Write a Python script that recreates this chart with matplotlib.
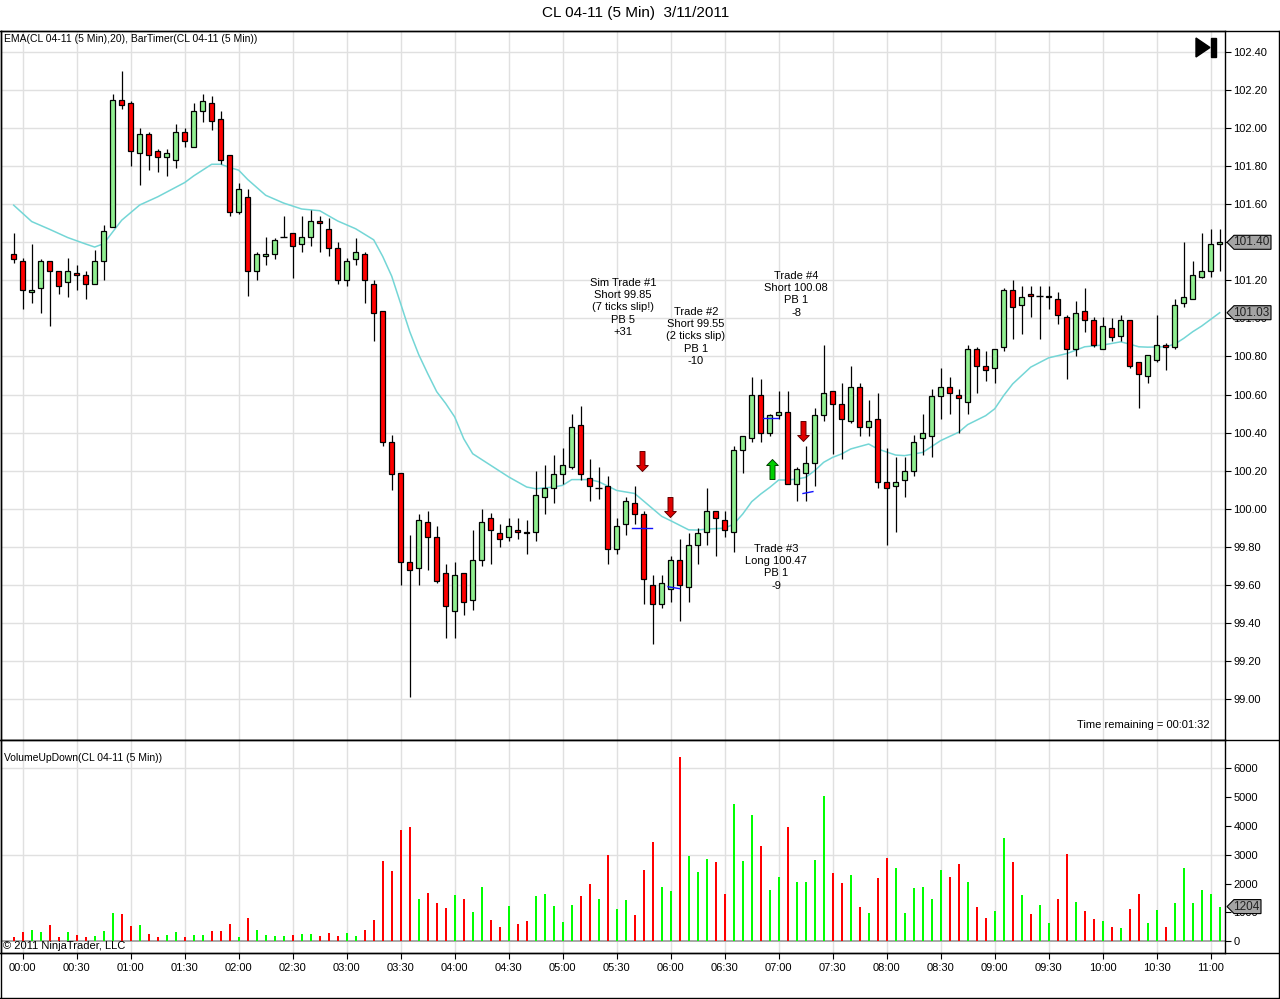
import numpy as np
import matplotlib
matplotlib.use("Agg")
import matplotlib.pyplot as plt
from matplotlib.path import Path
from matplotlib.patches import Polygon
from matplotlib.lines import Line2D
from matplotlib.transforms import IdentityTransform

plt.rcParams['font.family'] = ['Liberation Sans', 'DejaVu Sans']

# ---------------- data ----------------
opens = [101.34, 101.30, 101.14, 101.16, 101.30, 101.25, 101.19, 101.24, 101.23, 101.18,
         101.30, 101.48, 102.15, 102.13, 101.87, 101.97, 101.88, 101.85, 101.83, 101.98,
         101.90, 102.09, 102.13, 102.05, 101.86, 101.56, 101.64, 101.25, 101.33, 101.34,
         101.43, 101.45, 101.39, 101.43, 101.51, 101.47, 101.37, 101.20, 101.31, 101.34,
         101.18, 101.04, 100.35, 100.19, 99.72, 99.69, 99.93, 99.85, 99.66, 99.46,
         99.66, 99.52, 99.73, 99.95, 99.87, 99.85, 99.89, 99.88, 99.88, 100.06,
         100.11, 100.18, 100.22, 100.44, 100.16, 100.11, 100.12, 99.79, 99.92, 100.03,
         99.97, 99.60, 99.50, 99.58, 99.73, 99.59, 99.81, 99.88, 99.99, 99.94,
         99.88, 100.31, 100.37, 100.60, 100.40, 100.49, 100.51, 100.13, 100.19, 100.24,
         100.49, 100.62, 100.55, 100.46, 100.64, 100.43, 100.47, 100.14, 100.12, 100.15,
         100.20, 100.37, 100.38, 100.59, 100.64, 100.60, 100.56, 100.84, 100.75, 100.74,
         100.85, 101.15, 101.07, 101.13, 101.12, 101.11, 101.10, 101.01, 100.84, 101.04,
         100.99, 100.84, 100.95, 100.91, 100.99, 100.77, 100.70, 100.78, 100.86, 100.85,
         101.08, 101.10, 101.22, 101.25, 101.39]
highs = [101.45, 101.32, 101.39, 101.31, 101.30, 101.25, 101.32, 101.28, 101.25, 101.36,
         101.49, 102.18, 102.30, 102.14, 102.00, 101.98, 101.89, 101.89, 102.02, 102.00,
         102.13, 102.18, 102.17, 102.09, 101.86, 101.71, 101.68, 101.35, 101.43, 101.42,
         101.54, 101.45, 101.54, 101.57, 101.54, 101.53, 101.40, 101.32, 101.42, 101.35,
         101.20, 101.04, 100.39, 100.19, 99.86, 99.97, 99.99, 99.91, 99.71, 99.72,
         99.66, 99.89, 100.00, 99.98, 99.92, 99.95, 99.95, 99.94, 100.20, 100.23,
         100.28, 100.32, 100.50, 100.54, 100.26, 100.22, 100.17, 99.95, 100.06, 100.12,
         99.99, 99.65, 99.65, 99.75, 99.84, 99.87, 99.90, 100.11, 99.99, 99.99,
         100.33, 100.38, 100.69, 100.68, 100.50, 100.62, 100.62, 100.22, 100.33, 100.53,
         100.86, 100.62, 100.66, 100.75, 100.66, 100.57, 100.61, 100.32, 100.27, 100.27,
         100.39, 100.50, 100.63, 100.74, 100.69, 100.63, 100.86, 100.85, 100.83, 100.84,
         101.16, 101.20, 101.17, 101.17, 101.17, 101.17, 101.14, 101.02, 101.09, 101.16,
         101.01, 101.01, 101.00, 101.02, 100.99, 100.77, 100.81, 101.02, 100.87, 101.10,
         101.40, 101.30, 101.45, 101.47, 101.47]
lows = [101.29, 101.05, 101.08, 101.03, 100.96, 101.13, 101.11, 101.15, 101.10, 101.18,
        101.20, 101.48, 102.10, 101.80, 101.70, 101.78, 101.77, 101.75, 101.79, 101.90,
        101.90, 102.03, 101.99, 101.81, 101.54, 101.55, 101.12, 101.20, 101.28, 101.31,
        101.43, 101.21, 101.35, 101.38, 101.35, 101.33, 101.18, 101.17, 101.28, 101.08,
        100.88, 100.33, 100.10, 99.60, 99.01, 99.60, 99.68, 99.61, 99.32, 99.32,
        99.44, 99.47, 99.70, 99.71, 99.80, 99.83, 99.84, 99.76, 99.83, 99.97,
        100.03, 100.13, 100.21, 100.15, 100.04, 100.05, 99.71, 99.76, 99.86, 99.92,
        99.50, 99.29, 99.48, 99.51, 99.41, 99.51, 99.71, 99.81, 99.75, 99.85,
        99.77, 100.19, 100.35, 100.35, 100.38, 100.47, 100.13, 100.04, 100.04, 100.12,
        100.46, 100.29, 100.26, 100.45, 100.38, 100.38, 100.11, 99.81, 99.88, 100.06,
        100.17, 100.28, 100.27, 100.47, 100.50, 100.40, 100.50, 100.61, 100.67, 100.66,
        100.83, 100.89, 100.92, 101.01, 100.89, 101.05, 100.97, 100.68, 100.80, 100.93,
        100.85, 100.84, 100.88, 100.88, 100.74, 100.53, 100.66, 100.77, 100.73, 100.84,
        101.06, 101.10, 101.21, 101.22, 101.25]
closes = [101.31, 101.15, 101.15, 101.30, 101.25, 101.17, 101.25, 101.23, 101.18, 101.30,
          101.46, 102.15, 102.12, 101.88, 101.97, 101.86, 101.85, 101.87, 101.98, 101.93,
          102.09, 102.14, 102.04, 101.83, 101.56, 101.68, 101.25, 101.34, 101.34, 101.41,
          101.43, 101.38, 101.43, 101.51, 101.50, 101.37, 101.20, 101.30, 101.35, 101.20,
          101.03, 100.35, 100.18, 99.72, 99.68, 99.94, 99.85, 99.62, 99.49, 99.65,
          99.51, 99.73, 99.93, 99.89, 99.84, 99.91, 99.88, 99.87, 100.07, 100.11,
          100.18, 100.23, 100.43, 100.18, 100.12, 100.11, 99.79, 99.91, 100.04, 99.97,
          99.63, 99.50, 99.61, 99.73, 99.60, 99.81, 99.87, 99.99, 99.95, 99.89,
          100.31, 100.38, 100.60, 100.40, 100.49, 100.51, 100.13, 100.21, 100.24, 100.49,
          100.61, 100.55, 100.47, 100.64, 100.43, 100.46, 100.14, 100.11, 100.14, 100.20,
          100.35, 100.40, 100.59, 100.64, 100.61, 100.58, 100.84, 100.75, 100.73, 100.84,
          101.15, 101.06, 101.11, 101.12, 101.12, 101.12, 101.02, 100.84, 101.03, 100.99,
          100.86, 100.96, 100.90, 100.99, 100.75, 100.71, 100.81, 100.86, 100.85, 101.07,
          101.11, 101.23, 101.25, 101.39, 101.40]
volumes = [150, 325, 394, 325, 568, 150, 325, 220, 150, 185,
           360, 985, 950, 533, 568, 255, 150, 220, 325, 150,
           220, 220, 360, 360, 603, 150, 811, 394, 220, 185,
           185, 220, 255, 255, 185, 290, 185, 290, 185, 394,
           742, 2793, 2445, 3871, 3975, 1472, 1680, 1333, 1159, 1611,
           1472, 1020, 1889, 742, 498, 1229, 603, 707, 1576, 1646,
           1229, 672, 1263, 1576, 1993, 1472, 3002, 1124, 1437, 916,
           2480, 3454, 1889, 1750, 6409, 2967, 2411, 2863, 2758, 1646,
           4775, 2793, 4393, 3315, 1785, 2237, 3975, 2063, 2063, 2828,
           5053, 2375, 2029, 2306, 1199, 992, 2202, 2894, 2548, 992,
           1856, 1891, 1476, 2479, 2237, 2686, 2064, 1199, 819, 1061,
           3586, 2756, 1614, 957, 1268, 646, 1476, 3032, 1372, 1061,
           784, 715, 507, 473, 1130, 1649, 646, 1095, 507, 1337,
           2548, 1337, 1787, 1649, 1204]
ema_bars = [0, 2, 4, 6, 8, 9, 10, 12, 14, 16, 19, 20, 22, 23, 24, 25, 26, 28, 30, 32,
            34, 36, 38, 40, 41, 42, 43, 44, 45, 46, 47, 48, 49, 50, 51, 53, 55, 57, 58, 60,
            61, 62, 64, 65, 67, 69, 70, 72, 73, 75, 76, 77, 79, 80, 81, 82, 83, 84, 85, 86,
            87, 88, 89, 90, 91, 92, 93, 95, 96, 98, 99, 101, 103, 105, 106, 108, 109, 110, 111, 113,
            115, 117, 119, 121, 123, 124, 125, 126, 128, 129, 130, 131, 132, 133, 134]
ema_vals = [101.595, 101.509, 101.468, 101.425, 101.391, 101.375, 101.393, 101.516, 101.596, 101.639,
            101.714, 101.749, 101.810, 101.810, 101.793, 101.779, 101.730, 101.647, 101.606, 101.575,
            101.566, 101.512, 101.471, 101.413, 101.326, 101.222, 101.077, 100.931, 100.810, 100.710,
            100.615, 100.553, 100.482, 100.368, 100.289, 100.228, 100.167, 100.114, 100.105, 100.114,
            100.123, 100.153, 100.153, 100.142, 100.096, 100.080, 100.040, 99.960, 99.937, 99.889,
            99.888, 99.893, 99.898, 99.919, 99.972, 100.037, 100.077, 100.112, 100.151, 100.151,
            100.156, 100.165, 100.200, 100.244, 100.270, 100.288, 100.314, 100.340, 100.314, 100.282,
            100.279, 100.296, 100.358, 100.402, 100.442, 100.489, 100.525, 100.595, 100.656, 100.744,
            100.793, 100.815, 100.851, 100.860, 100.877, 100.865, 100.851, 100.849, 100.851, 100.865,
            100.895, 100.930, 100.960, 100.995, 101.030]
time_labels = ['00:00', '00:30', '01:00', '01:30', '02:00', '02:30', '03:00', '03:30',
               '04:00', '04:30', '05:00', '05:30', '06:00', '06:30', '07:00', '07:30',
               '08:00', '08:30', '09:00', '09:30', '10:00', '10:30', '11:00']
price_ticks = [99.00, 99.20, 99.40, 99.60, 99.80, 100.00, 100.20, 100.40, 100.60,
               100.80, 101.00, 101.20, 101.40, 101.60, 101.80, 102.00, 102.20, 102.40]
vol_ticks = [0, 1000, 2000, 3000, 4000, 5000, 6000]

# trade markers (bar position, price)
arrow_bars = [69.8, 72.9, 84.3, 87.7]
arrow_prices = [100.25, 100.01, 100.21, 100.41]
arrow_dirs = ['down', 'down', 'up', 'down']
fill_bar0 = [68.7, 72.7, 83.2, 87.7]
fill_bar1 = [70.9, 74.0, 84.9, 88.8]
fill_p0 = [99.90, 99.59, 100.475, 100.08]
fill_p1 = [99.90, 99.58, 100.475, 100.09]

trade_texts = [
    (623, 283, ['Sim Trade #1', 'Short 99.85', '(7 ticks slip!)', 'PB 5', '+31']),
    (696, 312, ['Trade #2', 'Short 99.55', '(2 ticks slip)', 'PB 1', '-10']),
    (796, 276, ['Trade #4', 'Short 100.08', 'PB 1', '-8']),
    (776, 549, ['Trade #3', 'Long 100.47', 'PB 1', '-9']),
]

# ---------------- figure ----------------
W, H = 1280, 999
fig = plt.figure(figsize=(W / 100, H / 100), dpi=100)
fig.patch.set_facecolor('white')

def fx(px):
    return px / W

def fy(py):
    return 1 - py / H

ax = fig.add_axes([fx(1), fy(740), fx(1225) - fx(1), fy(31) - fy(740)])
axv = fig.add_axes([fx(1), fy(953), fx(1225) - fx(1), fy(740) - fy(953)], sharex=ax)

n = len(opens)
x = np.arange(n)
o = np.array(opens); h = np.array(highs); l = np.array(lows); c = np.array(closes)
tick_bars = [1 + 6 * k for k in range(len(time_labels))]

GRID = '#E0E0E0'
for a in (ax, axv):
    for t in tick_bars:
        a.axvline(t, color=GRID, lw=1.0, zorder=0)
for p in price_ticks:
    ax.axhline(p, color=GRID, lw=1.0, zorder=0)
for v in (3000, 6000):
    axv.axhline(v, color=GRID, lw=1.0, zorder=0)
axv.axhline(0, color='#A8A8A8', lw=1.4, zorder=1)

# EMA
ax.plot(ema_bars, ema_vals, color='#74D6D6', lw=1.1, zorder=1.5)

# wicks
ax.vlines(x, l, h, color='black', lw=0.9, zorder=2)
# bodies
up = c > o
dn = c < o
eq = c == o
ax.bar(x[up], (c - o)[up], bottom=o[up], width=0.62, color='#90EE90',
       edgecolor='black', linewidth=0.9, zorder=3)
ax.bar(x[dn], (o - c)[dn], bottom=c[dn], width=0.62, color='#FF0000',
       edgecolor='black', linewidth=0.9, zorder=3)
ax.hlines(c[eq], x[eq] - 0.36, x[eq] + 0.36, color='black', lw=1.0, zorder=3)

# fills
for b0, b1, p0, p1 in zip(fill_bar0, fill_bar1, fill_p0, fill_p1):
    ax.plot([b0, b1], [p0, p1], color='#1010FF', lw=1.0, zorder=4)

# arrows
down_path = Path([(-2.5, 10), (2.5, 10), (2.5, -4), (5.8, -4), (0, -10), (-5.8, -4), (-2.5, -4), (-2.5, 10)],
                 [Path.MOVETO] + [Path.LINETO] * 6 + [Path.CLOSEPOLY])
up_path = Path([(-2.5, -10), (2.5, -10), (2.5, 4), (5.8, 4), (0, 10), (-5.8, 4), (-2.5, 4), (-2.5, -10)],
               [Path.MOVETO] + [Path.LINETO] * 6 + [Path.CLOSEPOLY])
for b, p, d in zip(arrow_bars, arrow_prices, arrow_dirs):
    if d == 'down':
        ax.plot([b], [p], marker=down_path, markersize=14.4, color='#E00000',
                markeredgecolor='#600000', markeredgewidth=0.7, zorder=5)
    else:
        ax.plot([b], [p], marker=up_path, markersize=14.4, color='#00D000',
                markeredgecolor='#004000', markeredgewidth=0.7, zorder=5)

# volume
vcol = ['#00FF00' if cc >= oo else '#FF0000' for oo, cc in zip(opens, closes)]
axv.bar(x, volumes, width=0.24, color=vcol, linewidth=0, zorder=2)

# limits
ax.set_xlim((1 - 13.7) / 9, (1225 - 13.7) / 9)
ax.set_ylim(102.4 - (740 - 52) / 190.3, 102.4 + (52 - 31) / 190.3)
axv.set_ylim(-(953 - 941.3) / 28.83 * 1000, (941.3 - 740) / 28.83 * 1000)

# ticks
ax.set_yticks(price_ticks)
ax.set_yticklabels([f'{p:.2f}' for p in price_ticks])
ax.yaxis.tick_right()
ax.tick_params(axis='y', direction='out', length=4, width=0.8, labelsize=8, pad=2, colors='black')
ax.tick_params(axis='x', length=0, labelbottom=False)
axv.set_yticks(vol_ticks)
axv.set_yticklabels([str(v) for v in vol_ticks])
axv.yaxis.tick_right()
axv.tick_params(axis='y', direction='out', length=4, width=0.8, labelsize=8, pad=2)
axv.set_xticks(tick_bars)
axv.set_xticklabels(time_labels)
axv.tick_params(axis='x', direction='out', length=4.5, width=0.8, labelsize=8, pad=3)

for a in (ax, axv):
    for s in a.spines.values():
        s.set_color('black')
        s.set_linewidth(1.0)
    a.set_facecolor('white')

# ---------------- decorations in pixel coordinates ----------------
ID = IdentityTransform()

def P(px, py):
    return (px, H - py)

def fig_line(x0, y0, x1, y1, lw=1.0, color='black'):
    fig.add_artist(Line2D([x0, x1], [H - y0, H - y1], transform=ID, color=color, lw=lw))

fig_line(0, 31, W, 31)
fig_line(0, 740, W, 740)
fig_line(0, 953, W, 953)
fig_line(0, 998, W, 998)
fig_line(1, 31, 1, 998)
fig_line(1279, 31, 1279, 998)

fig.text(fx(636), fy(13), 'CL 04-11 (5 Min)  3/11/2011', ha='center', va='center', fontsize=11)
fig.text(fx(4), fy(39), 'EMA(CL 04-11 (5 Min),20), BarTimer(CL 04-11 (5 Min))', ha='left', va='center', fontsize=7.5)
fig.text(fx(4), fy(758), 'VolumeUpDown(CL 04-11 (5 Min))', ha='left', va='center', fontsize=7.5)
fig.text(fx(3), fy(946), '\u00a9 2011 NinjaTrader, LLC', ha='left', va='center', fontsize=8)
fig.text(fx(1210), fy(725), 'Time remaining = 00:01:32', ha='right', va='center', fontsize=8)

for cx, y0, lines in trade_texts:
    for k, s in enumerate(lines):
        fig.text(fx(cx), fy(y0 + 12.2 * k), s, ha='center', va='center', fontsize=8)

# play/end icon
fig.add_artist(Polygon([P(1196, 38), P(1196, 57), P(1210, 47.5)], closed=True,
                       transform=ID, facecolor='black', edgecolor='black'))
fig.add_artist(Polygon([P(1211, 38), P(1216, 38), P(1216, 57), P(1211, 57)], closed=True,
                       transform=ID, facecolor='black', edgecolor='black'))

fig.canvas.draw()

def value_tag(axis, val, text, w):
    yd = axis.transData.transform((0, val))[1]
    x0 = 1227
    hh = 7
    pts = [(x0, yd), (x0 + 7, yd + hh), (x0 + w, yd + hh), (x0 + w, yd - hh), (x0 + 7, yd - hh)]
    fig.add_artist(Polygon(pts, closed=True, transform=ID, facecolor='#A4A4A4',
                           edgecolor='black', lw=0.8, zorder=10))
    xc = (x0 + 7 + x0 + w) / 2.0 - 1
    fig.text(xc / W, yd / H, text, ha='center', va='center',
             fontsize=8.5, color='#202020', zorder=11)

value_tag(ax, closes[-1], f'{closes[-1]:.2f}', 44)
value_tag(ax, ema_vals[-1], f'{ema_vals[-1]:.2f}', 44)
value_tag(axv, volumes[-1], str(volumes[-1]), 34)

fig.savefig('out.png', dpi=100, facecolor='white')
